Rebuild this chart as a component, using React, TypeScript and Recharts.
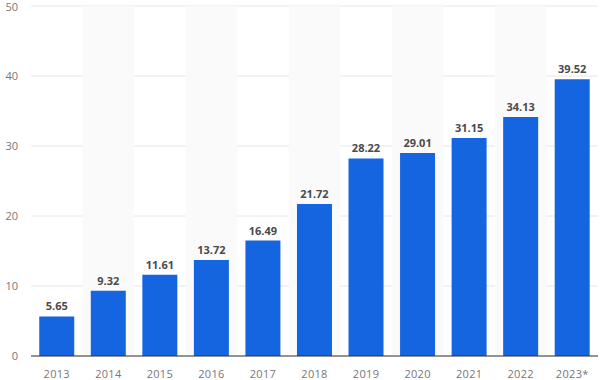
import { BarChart, Bar, XAxis, YAxis, CartesianGrid, ReferenceArea, LabelList } from 'recharts';

const years = ['2013', '2014', '2015', '2016', '2017', '2018', '2019', '2020', '2021', '2022', '2023*'];
const values = [5.65, 9.32, 11.61, 13.72, 16.49, 21.72, 28.22, 29.01, 31.15, 34.13, 39.52];
const yTicks = [0, 10, 20, 30, 40, 50];

const data = years.map((year, i) => ({ year, value: values[i] }));
const stripes = years.filter((_, i) => i % 2 === 1);

const font = '"Open Sans", "Noto Sans", sans-serif';

export default function App() {
  return (
    <div style={{ position: 'absolute', left: 0, top: 0, width: 601, height: 380, background: '#fff' }}>
      <BarChart
        width={601}
        height={380}
        data={data}
        margin={{ top: 6, right: 3, bottom: 0, left: 0 }}
        barCategoryGap="16%"
      >
        {stripes.map((y) => (
          <ReferenceArea key={y} x1={y} x2={y} y1={0} y2={50} fill="#fafafa" fillOpacity={1} stroke="none" ifOverflow="visible" />
        ))}
        <CartesianGrid vertical={false} stroke="#e6e6e6" />
        <XAxis
          dataKey="year"
          height={24}
          tickLine={false}
          axisLine={{ stroke: '#333', strokeWidth: 1 }}
          tickMargin={8}
          tick={{ fill: '#777', fontSize: 11, fontFamily: font, letterSpacing: 0.3 }}
          interval={0}
        />
        <YAxis
          width={31}
          domain={[0, 50]}
          ticks={yTicks}
          axisLine={false}
          tickLine={false}
          tickSize={0}
          tickMargin={13}
          tick={{ fill: '#777', fontSize: 11, fontFamily: font }}
        />
        <Bar dataKey="value" fill="#1565e1" isAnimationActive={false}>
          <LabelList
            dataKey="value"
            position="top"
            offset={6}
            formatter={(v: number) => v.toFixed(2)}
            style={{ fill: '#4a4a4a', fontSize: 11, fontWeight: 700, fontFamily: font }}
          />
        </Bar>
      </BarChart>
    </div>
  );
}
